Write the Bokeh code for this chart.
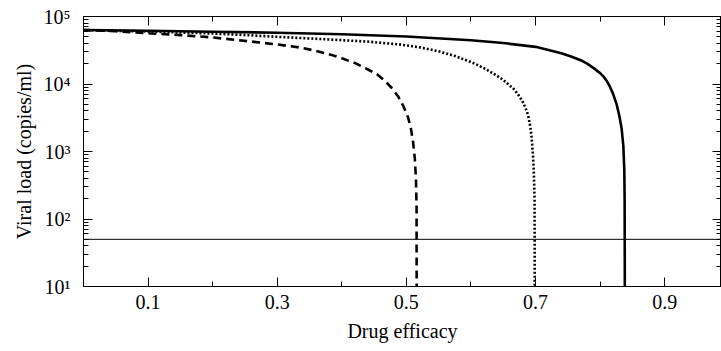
from bokeh.plotting import figure
from bokeh.models import (Range1d, LogAxis, LinearAxis, FixedTicker, LogTicker, Span,
                          CustomLabelingPolicy)
from bokeh.embed import file_html
from bokeh.resources import INLINE

# Drug efficacy (x) and viral load (copies/ml)
solid_x = [0.00, 0.10, 0.20, 0.30, 0.40, 0.50, 0.60, 0.65, 0.70, 0.72, 0.74, 0.755, 0.77, 0.78, 0.79,
           0.80, 0.805, 0.81, 0.815, 0.82, 0.8256, 0.83, 0.8333, 0.836, 0.8375, 0.838, 0.8385]
solid_v = [6.3e4, 6.15e4, 5.95e4, 5.75e4, 5.45e4, 5.05e4, 4.45e4, 4.05e4, 3.55e4, 3.2e4, 2.85e4, 2.55e4, 2.25e4,
           2.0e4, 1.72e4, 1.45e4, 1.3e4, 1.12e4, 9.2e3, 7.2e3, 5.0e3, 3.3e3, 2.2e3, 1.2e3, 5.2e2, 2.0e2, 1.0]

dotted_x = [0.00, 0.10, 0.20, 0.26, 0.30, 0.384, 0.44, 0.49, 0.52, 0.55, 0.575, 0.5956, 0.61, 0.625, 0.64,
            0.65, 0.66, 0.667, 0.673, 0.68, 0.685, 0.6887, 0.692, 0.694, 0.696, 0.6975, 0.6985, 0.699]
dotted_v = [6.3e4, 6.0e4, 5.6e4, 5.25e4, 5.0e4, 4.55e4, 4.25e4, 3.85e4, 3.5e4, 3.05e4, 2.6e4, 2.2e4, 1.92e4,
            1.62e4, 1.33e4, 1.15e4, 9.5e3, 8.3e3, 7.0e3, 5.5e3, 4.3e3, 3.4e3, 2.3e3, 1.6e3, 9.0e2, 4.5e2, 2.0e2, 1.0]

dashed_x = [0.00, 0.05, 0.105, 0.15, 0.20, 0.26, 0.30, 0.337, 0.36, 0.384, 0.40, 0.42, 0.4406, 0.455,
            0.4664, 0.477, 0.487, 0.495, 0.5026, 0.507, 0.5103, 0.513, 0.5148, 0.5158, 0.516]
dashed_v = [6.3e4, 6.05e4, 5.6e4, 5.3e4, 4.9e4, 4.25e4, 3.85e4, 3.45e4, 3.1e4, 2.7e4, 2.4e4, 2.05e4, 1.64e4,
            1.38e4, 1.12e4, 8.8e3, 6.6e3, 4.8e3, 3.2e3, 2.2e3, 1.4e3, 8.0e2, 4.0e2, 1.5e2, 1.0]

detection_limit = 50

x_major = [0.1, 0.3, 0.5, 0.7, 0.9]
x_minor = [0.2, 0.4, 0.6, 0.8]
y_labels = {10: "10¹", 100: "10²", 1000: "10³", 10000: "10⁴", 100000: "10⁵"}

FONT = "Liberation Serif"

p = figure(width=721, height=351, y_axis_type="log", output_backend="svg", toolbar_location=None,
           x_range=Range1d(0, 0.988), y_range=Range1d(10, 1e5),
           x_axis_label="Drug efficacy", y_axis_label="Viral load (copies/ml)",
           min_border_left=83, min_border_right=0, min_border_top=16, min_border_bottom=65)
p.grid.visible = False
p.outline_line_color = "black"
p.outline_line_width = 1
p.background_fill_color = "white"
p.border_fill_color = "white"

def style_axis(ax, labels=True):
    ax.axis_line_color = "black"
    ax.major_tick_in = 9
    ax.major_tick_out = 0
    ax.minor_tick_in = 5
    ax.minor_tick_out = 0
    ax.major_tick_line_color = "black"
    ax.minor_tick_line_color = "black"
    ax.major_label_text_font = FONT
    ax.major_label_text_font_size = "20px"
    ax.major_label_text_color = "black"
    ax.axis_label_text_font = FONT
    ax.axis_label_text_font_size = "20px"
    ax.axis_label_text_font_style = "normal"
    ax.axis_label_text_color = "black"
    if not labels:
        ax.major_label_text_font_size = "1px"
        ax.major_label_standoff = 0
        ax.axis_label_standoff = 0
        ax.major_label_policy = CustomLabelingPolicy(code="return new Set()")

p.xaxis.ticker = FixedTicker(ticks=x_major, minor_ticks=x_minor)
style_axis(p.xaxis[0])
p.xaxis.major_label_standoff = 8
p.xaxis.axis_label_standoff = 8

p.yaxis.ticker = LogTicker(num_minor_ticks=10)
p.yaxis.major_label_overrides = y_labels
style_axis(p.yaxis[0])
p.yaxis.major_label_standoff = 13
p.yaxis.axis_label_standoff = 6

top = LinearAxis(ticker=FixedTicker(ticks=x_major, minor_ticks=x_minor))
style_axis(top, labels=False)
p.add_layout(top, "above")
right = LogAxis(ticker=LogTicker(num_minor_ticks=10))
right.major_label_overrides = y_labels
style_axis(right, labels=False)
right.major_label_standoff = -9
p.add_layout(right, "right")

p.add_layout(Span(location=detection_limit, dimension="width", line_color="black", line_width=1))

p.line(solid_x, solid_v, line_color="black", line_width=2.6)
p.line(dotted_x, dotted_v, line_color="black", line_width=2.6, line_dash="2 2")
p.line(dashed_x, dashed_v, line_color="black", line_width=2.6, line_dash="8 5")

open("out.html", "w").write(file_html(p, INLINE))
